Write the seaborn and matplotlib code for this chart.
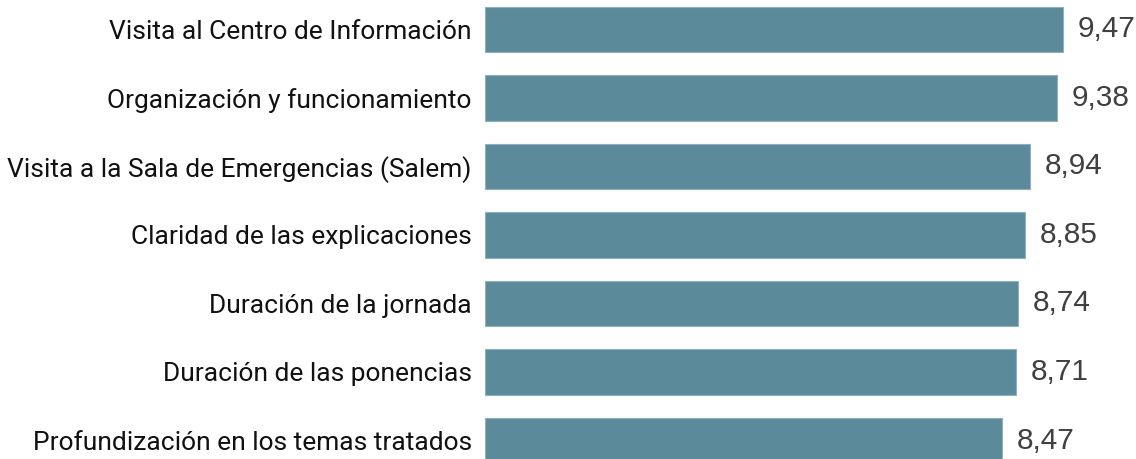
import matplotlib
matplotlib.use("Agg")
import matplotlib.pyplot as plt
import seaborn as sns
import pandas as pd

categories = [
    "Visita al Centro de Información",
    "Organización y funcionamiento",
    "Visita a la Sala de Emergencias (Salem)",
    "Claridad de las explicaciones",
    "Duración de la jornada",
    "Duración de las ponencias",
    "Profundización en los temas tratados",
]
values = [9.47, 9.38, 8.94, 8.85, 8.74, 8.71, 8.47]

df = pd.DataFrame({"cat": categories, "val": values})

sns.set_theme(style="white")
plt.rcParams["font.family"] = ["Roboto", "DejaVu Sans"]

W, H = 1136, 459
fig = plt.figure(figsize=(W / 100, H / 100), dpi=100)
ax = fig.add_axes([485 / W, 0, (W - 485) / W, 1])

sns.barplot(data=df, x="val", y="cat", orient="h", color="#5B8A9A",
            saturation=1, width=0.66, edgecolor="#8FB0BC", linewidth=0.8, ax=ax)

ax.set_xlim(0, (W - 485) / 61)
ax.set_ylim(6.27, -0.43)
ax.set_xlabel("")
ax.set_ylabel("")
ax.set_xticks([])
ax.tick_params(axis="y", length=0, pad=9.5, labelsize=19, labelcolor="#111111")
for s in ax.spines.values():
    s.set_visible(False)

texts = ax.bar_label(ax.containers[0],
                     labels=[f"{v:.2f}".replace(".", ",") for v in values],
                     padding=10.5, fontsize=21.5, color="#404040")
for t in texts:
    t.set_fontfamily(["Liberation Sans", "DejaVu Sans"])
    t.set_va("center")
    t.set_y(0)

fig.savefig("out.png", dpi=100)
